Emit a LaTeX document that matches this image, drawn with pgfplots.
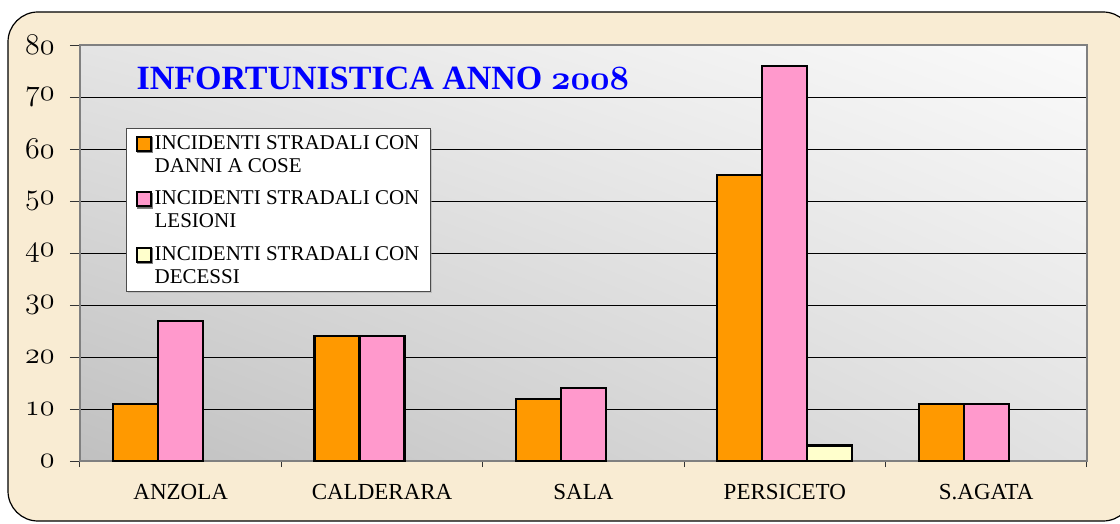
\documentclass[border=0pt]{standalone}
\usepackage{fontspec}
\setmainfont{Liberation Serif}
\usepackage{pgfplots}
\pgfplotsset{compat=1.18}
\usetikzlibrary{shadings,shadows}
\DeclareFontFamily{OML}{myold}{\skewchar\font=127}
\DeclareFontShape{OML}{myold}{m}{it}{<-> cmmi12}{}
\DeclareFontShape{OML}{myold}{b}{it}{<-> cmmib10}{}
\newcommand\oldm{\usefont{OML}{myold}{m}{it}}
\newcommand\oldb{\usefont{OML}{myold}{b}{it}}
\newcommand\tl[1]{{\fontsize{30}{32}\oldm #1}}
\definecolor{parch}{RGB}{249,236,211}
\definecolor{orng}{RGB}{255,153,0}
\definecolor{pnk}{RGB}{255,153,204}
\definecolor{yel}{RGB}{255,255,204}
\definecolor{frame}{RGB}{128,128,128}
\begin{document}
\begin{tikzpicture}[x=1pt,y=1pt]
\useasboundingbox (0,0) rectangle (1120,523);
\fill[parch, draw=black, line width=1.2pt, rounded corners=30pt] (8,2) rectangle (1133,511);
\begin{axis}[
  at={(80pt,62pt)}, anchor=south west,
  scale only axis, width=1007pt, height=416pt,
  xmin=-0.5, xmax=4.5, ymin=0, ymax=80,
  axis background/.style={shading=bilinear interpolation,
     lower left={rgb,255:red,192;green,192;blue,192},
     upper left={rgb,255:red,228;green,228;blue,228},
     lower right={rgb,255:red,226;green,226;blue,226},
     upper right={rgb,255:red,250;green,250;blue,250}},
  axis line style={draw=frame, line width=1.5pt},
  tick pos=left,
  xtick={0,1,2,3,4},
  xticklabels={ANZOLA,CALDERARA,SALA,PERSICETO,S.AGATA},
  minor xtick={-0.5,0.5,1.5,2.5,3.5,4.5},
  major x tick style={draw=none},
  minor x tick style={draw=black!80, line width=1pt},
  ytick={0,10,20,30,40,50,60,70,80},
  yticklabels={\tl{0},\tl{10},\tl{20},\tl{30},\tl{40},\tl{50},\tl{60},\tl{70},\tl{80}},
  y tick style={draw=black!80, line width=1pt},
  tick align=outside,
  major tick length=10pt, minor tick length=6pt,
  ymajorgrids, grid style={draw=black, line width=0.8pt},
  yticklabel style={xshift=-12pt},
  xticklabel style={font=\fontsize{23}{26}\selectfont, yshift=-10pt},
  legend style={at={(axis description cs:0.0457,0.8005)}, anchor=north west,
    fill=white, draw=gray!60!black, line width=1pt,
    drop shadow={shadow xshift=1.5pt, shadow yshift=-1.5pt, fill=gray!70},
    inner xsep=9pt, inner ysep=5pt, row sep=13pt, column sep=1pt,
    font=\fontsize{21}{23}\selectfont, nodes={align=left, inner sep=2pt}},
  legend cell align=left,
  sq/.style={legend image code/.code={\path (0pt,-19pt); \draw[##1, line width=2pt] (0pt,4pt) rectangle (14pt,18pt);}},
]
\addplot[ybar, bar width=45pt, bar shift=-45pt, fill=orng, draw=black, line width=2.2pt, sq]
  coordinates {(0,11) (1,24) (2,12) (3,55) (4,11)};
\addlegendentry{INCIDENTI STRADALI CON\\DANNI A COSE}
\addplot[ybar, bar width=45pt, bar shift=0pt, fill=pnk, draw=black, line width=2.2pt, sq]
  coordinates {(0,27) (1,24) (2,14) (3,76) (4,11)};
\addlegendentry{INCIDENTI STRADALI CON\\LESIONI}
\addplot[ybar, bar width=45pt, bar shift=45pt, fill=yel, draw=black, line width=2.2pt, sq]
  coordinates {(3,3)};
\addlegendentry{INCIDENTI STRADALI CON\\DECESSI}
\node[anchor=west, text=blue, font=\fontsize{34}{38}\selectfont\bfseries]
  at (axis description cs:0.0527,0.9207) {INFORTUNISTICA ANNO {\oldb 2008}};
\end{axis}
\end{tikzpicture}
\end{document}
